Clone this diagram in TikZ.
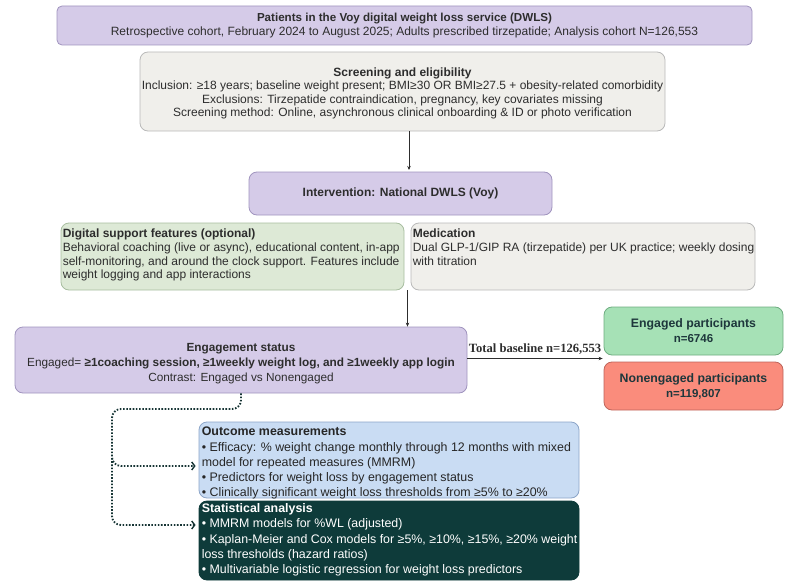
\documentclass[tikz,border=0pt]{standalone}
\usepackage{fontspec}
\setmainfont{Liberation Sans}
\newfontfamily\tbfont{Liberation Serif}
\usetikzlibrary{arrows.meta,calc}
\definecolor{purFill}{RGB}{213,203,232}
\definecolor{purDraw}{RGB}{160,148,190}
\definecolor{grFill}{RGB}{240,239,235}
\definecolor{grDraw}{RGB}{185,185,185}
\definecolor{lgFill}{RGB}{221,233,214}
\definecolor{lgDraw}{RGB}{168,190,160}
\definecolor{egFill}{RGB}{166,225,182}
\definecolor{egDraw}{RGB}{110,172,128}
\definecolor{neFill}{RGB}{250,140,124}
\definecolor{neDraw}{RGB}{190,100,90}
\definecolor{blFill}{RGB}{201,220,243}
\definecolor{blDraw}{RGB}{140,165,200}
\definecolor{dkFill}{RGB}{14,59,58}
\definecolor{txt}{RGB}{45,45,45}
\definecolor{slate}{RGB}{30,55,60}
\definecolor{dotc}{RGB}{22,52,52}
\begin{document}
\begin{tikzpicture}[x=1pt,y=-1pt]
\tikzset{
  box/.style={draw=#1, line width=0.8pt, rounded corners=8pt, inner sep=0pt, align=center, text=txt},
  ftxt/.style={font=\fontsize{12}{13.8}\selectfont},
  etxt/.style={font=\fontsize{11.8}{14.8}\selectfont},
  btxt/.style={font=\fontsize{12.4}{15.2}\selectfont},
  ltxt/.style={inner sep=0pt, anchor=north west, align=left},
  ctxt/.style={inner sep=0pt, align=center, text=txt},
  arr/.style={draw=txt, line width=0.8pt, -{Stealth[length=4pt,width=3.5pt]}},
  dotline/.style={draw=dotc, line width=1.8pt, dash pattern=on 1.6pt off 1.6pt,
    -{Straight Barb[length=3pt,width=8pt,line width=1.4pt]}}
}
\useasboundingbox (0,0) rectangle (800,586);

\node[box=purDraw, fill=purFill, minimum width=695pt, minimum height=39pt, rounded corners=5pt, ftxt] (top) at (404.5,25.5)
 {{\fontsize{11.6}{13.8}\selectfont\textbf{Patients in the Voy digital weight loss service (DWLS)}}\\Retrospective cohort, February 2024 to August 2025; Adults prescribed tirzepatide; Analysis cohort N=126,553};

\node[box=grDraw, fill=grFill, minimum width=525pt, minimum height=79pt] (screen) at (402.5,91.5) {};
\node[ctxt, font=\fontsize{12}{13.4}\selectfont] (screent) at ($(screen.center)+(0,2)$)
 {\textbf{Screening and eligibility}\\\smash{Inclusion: ≥18 years; baseline weight present; BMI≥30 OR BMI≥27.5 + obesity-related comorbidity}\\Exclusions: Tirzepatide contraindication, pregnancy, key covariates missing\\Screening method: Online, asynchronous clinical onboarding \& ID or photo verification};

\node[box=purDraw, fill=purFill, minimum width=303pt, minimum height=43pt, ftxt] (interv) at (400.5,193.5)
 {\textbf{Intervention: National DWLS (Voy)}};

\node[box=lgDraw, fill=lgFill, minimum width=343pt, minimum height=67pt] (dig) at (232.5,256.5) {};
\node[ltxt, ftxt, text=txt] (digt) at ($(dig.north west)+(2,6)$)
 {\textbf{Digital support features (optional)}\\Behavioral coaching (live or async), educational content, in-app\\self-monitoring, and around the clock support. Features include\\weight logging and app interactions};

\node[box=grDraw, fill=grFill, minimum width=344pt, minimum height=67pt] (med) at (583,256.5) {};
\node[ltxt, ftxt, text=txt] (medt) at ($(med.north west)+(2,6)$)
 {\textbf{Medication}\\Dual GLP-1/GIP RA (tirzepatide) per UK practice; weekly dosing\\with titration};

\node[box=purDraw, fill=purFill, minimum width=452pt, minimum height=66pt] (eng) at (241,360) {};
\node[ctxt, etxt] (engt) at ($(eng.center)+(0,3.5)$)
 {\textbf{Engagement status}\\\smash{Engaged= \textbf{≥1coaching session, ≥1weekly weight log, and ≥1weekly app login}}\\Contrast: Engaged vs Nonengaged};

\node[box=egDraw, fill=egFill, minimum width=179pt, minimum height=48pt, text=slate, font=\bfseries\fontsize{12.3}{15}\selectfont] (engd) at (693.5,331)
 {Engaged participants\\{\fontsize{11.5}{13}\selectfont n=6746}};
\node[box=neDraw, fill=neFill, minimum width=179pt, minimum height=48pt, text=slate, font=\bfseries\fontsize{12.3}{15}\selectfont] (noneng) at (693.5,386)
 {Nonengaged participants\\{\fontsize{11.5}{13}\selectfont n=119,807}};

\node[box=blDraw, fill=blFill, minimum width=380pt, minimum height=76pt] (outc) at (389,460) {};
\node[ltxt, btxt, text=black!85] (outct) at ($(outc.north west)+(3,5.5)$)
 {\textbf{Outcome measurements}\\• Efficacy: \% weight change monthly through 12 months with mixed\\model for repeated measures (MMRM)\\• Predictors for weight loss by engagement status\\• Clinically significant weight loss thresholds from ≥5\% to ≥20\%};

\node[box=dkFill, fill=dkFill, minimum width=380pt, minimum height=79pt] (stat) at (389,540.5) {};
\node[ltxt, btxt, text=white] (statt) at ($(stat.north west)+(3,3)$)
 {\textbf{Statistical analysis}\\• MMRM models for \%WL (adjusted)\\• Kaplan-Meier and Cox models for ≥5\%, ≥10\%, ≥15\%, ≥20\% weight\\loss thresholds (hazard ratios)\\• Multivariable logistic regression for weight loss predictors};

% solid arrows
\draw[arr] ([xshift=6.5pt]screen.south) -- ([xshift=8.5pt]interv.north |- 0,170);
\coordinate (gap) at ($(dig.south east)!0.5!(med.south west)$);
\draw[arr] (gap) -- (gap |- eng.north);
\coordinate (mid) at ($(engd.south west)!0.5!(noneng.north west)$);
\draw[arr] (eng.east |- mid) -- node[above=0pt, font=\tbfont\bfseries\fontsize{12.6}{14}\selectfont, text=txt] (tbl) {Total baseline n=126,553} ([xshift=-1pt]mid);

% dotted connectors
\coordinate (bend) at (112,409);
\coordinate (o1) at (112,466);
\coordinate (o1s) at (112,458);
\coordinate (o2) at (112,525);
\draw[dotline, rounded corners=9pt] (eng.south) |- (bend) -- (o1) -- ([xshift=-3pt]o1 -| outc.west);
\draw[dotline, rounded corners=9pt] (o1s) -- (o2) -- ([xshift=-3pt]o2 -| stat.west);
\end{tikzpicture}
\end{document}
